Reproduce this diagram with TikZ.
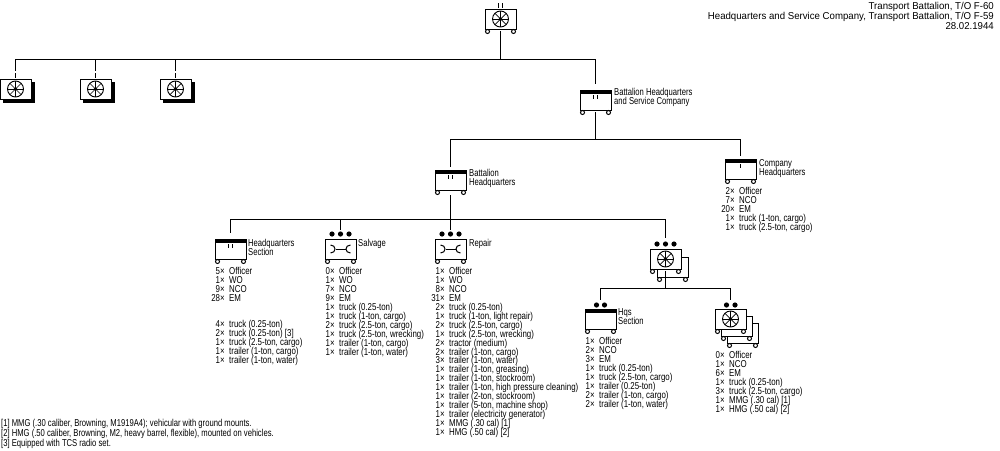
\documentclass[tikz,border=0pt]{standalone}
\usepackage{fontspec}
\setmainfont[FakeStretch=0.79]{Liberation Sans}
\newfontfamily\widefont[FakeStretch=0.965]{Liberation Sans}
\newfontfamily\narrowfont[FakeStretch=0.765]{Liberation Sans}
% keep tight line pitch even where brackets touch
\lineskiplimit=-6pt
\tikzset{
  x=1pt,y=-1pt,
  unitbox/.style={draw=black,fill=white,line width=1pt,minimum width=31pt,minimum height=20pt,inner sep=0pt,outer sep=0pt},
  link/.style={line width=1pt,shorten <=2pt},
  stroke/.style={line width=1pt},
  wheel/.style={draw=black,fill=white,line width=1pt},
  lbl/.style={anchor=north west,inner sep=0pt,align=left,font=\fontsize{10}{9.4}\narrowfont},
  roster/.style={anchor=north west,inner sep=0pt,align=left,font=\fontsize{10}{8.95}\selectfont},
  note/.style={inner sep=0pt,font=\fontsize{10}{10}\narrowfont},
  heading/.style={inner sep=0pt,font=\fontsize{10}{10}\widefont}
}
% count in front of the item name, hanging to the left of the column
\newcommand\qty[1]{\leavevmode\llap{#1×\hspace{4.5pt}}}
% a unit frame from its top-left corner
\newcommand\unitframe[3]{\node[unitbox] (#1) at ({#2+15.5},{#3+10}) {};}
\newcommand\wheels[1]{
  \draw[wheel] ([xshift=2.5pt,yshift=-2.5pt]#1.south west) circle (2pt);
  \draw[wheel] ([xshift=-2.5pt,yshift=-2.5pt]#1.south east) circle (2pt);}
\newcommand\hqbar[1]{\fill ([yshift=0.5pt]#1.north west) rectangle ([yshift=-4pt]#1.north east);}
\newcommand\fan[1]{
  \draw[line width=0.9pt] (#1.center) circle (8pt);
  \foreach \a in {0,45,...,315}{\draw[line width=0.7pt] (#1.center) -- ++(\a:8pt);}
  \fill (#1.center) circle (1.8pt);}
\newcommand\wrench[1]{
  \draw[line width=1pt] ([xshift=-5pt]#1.center) -- ([xshift=5pt]#1.center);
  \draw[line width=1pt] ([xshift=-10pt,yshift=4pt]#1.center) .. controls ([xshift=-4pt,yshift=4pt]#1.center) and ([xshift=-4pt,yshift=-4pt]#1.center) .. ([xshift=-10pt,yshift=-4pt]#1.center);
  \draw[line width=1pt] ([xshift=10pt,yshift=4pt]#1.center) .. controls ([xshift=4pt,yshift=4pt]#1.center) and ([xshift=4pt,yshift=-4pt]#1.center) .. ([xshift=10pt,yshift=-4pt]#1.center);}
% size marks: vertical ticks and dots
\newcommand\ticktwo[3]{\draw[stroke] ({#1-2},#2) -- ({#1-2},#3) ({#1+2},#2) -- ({#1+2},#3);}
\newcommand\tickone[3]{\draw[stroke] (#1,#2) -- (#1,#3);}
\newcommand\dotmark[2]{\fill (#1,#2) circle (2.6pt);}
\begin{document}
\begin{tikzpicture}
\useasboundingbox (0,0) rectangle (1000,450);
\fill[white] (0,0) rectangle (1000,450);

% bus levels of the tree
\coordinate (busA) at (0,59);
\coordinate (busB) at (0,139);
\coordinate (busC) at (0,219);
\coordinate (busD) at (0,288);

% battalion
\unitframe{bn}{485}{9}
\wheels{bn}
\fan{bn}
\ticktwo{500.5}{3}{8}

% line companies with heavy shadow
\foreach \n/\x in {coA/0,coB/80,coC/160}{
  \fill (\x+3,82) rectangle (\x+34.5,102.5);
  \node[unitbox,minimum height=20pt] (\n) at (\x+15.5,89) {};
  \fan{\n}
  \tickone{\x+15.5}{73}{78}
}

% headquarters and service company
\unitframe{hsc}{580}{90}
\hqbar{hsc}
\wheels{hsc}
\ticktwo{595.5}{95}{99}
\node[lbl] (hscLabel) at (614,88) {Battalion Headquarters\\and Service Company};

% battalion headquarters
\unitframe{bhq}{435}{170}
\hqbar{bhq}
\wheels{bhq}
\ticktwo{450.5}{175}{179}
\node[lbl] (bhqLabel) at (469,169) {Battalion\\Headquarters};

% company headquarters
\unitframe{chq}{725}{159}
\hqbar{chq}
\wheels{chq}
\tickone{740.5}{164}{168}
\node[lbl] (chqLabel) at (759,159) {Company\\Headquarters};
\node[roster] (chqList) at (739,187) {\qty{2}Officer\\\qty{7}NCO\\\qty{20}EM\\\qty{1}truck (1-ton, cargo)\\\qty{1}truck (2.5-ton, cargo)};

% headquarters section
\unitframe{hqs}{215}{239}
\hqbar{hqs}
\wheels{hqs}
\ticktwo{230.5}{244}{248}
\node[lbl] (hqsLabel) at (248,239) {Headquarters\\Section};
\node[roster] (hqsPers) at (229,267) {\qty{5}Officer\\\qty{1}WO\\\qty{9}NCO\\\qty{28}EM};
\node[roster] (hqsVeh) at (229,320) {\qty{4}truck (0.25-ton)\\\qty{2}truck (0.25-ton) {[3]}\\\qty{1}truck (2.5-ton, cargo)\\\qty{1}trailer (1-ton, cargo)\\\qty{1}trailer (1-ton, water)};

% salvage platoon
\unitframe{salv}{325}{239}
\wheels{salv}
\wrench{salv}
\foreach \x in {332,340.5,349}{\dotmark{\x}{234}}
\node[lbl] (salvLabel) at (358,239) {Salvage};
\node[roster] (salvList) at (339,267) {\qty{0}Officer\\\qty{1}WO\\\qty{7}NCO\\\qty{9}EM\\\qty{1}truck (0.25-ton)\\\qty{1}truck (1-ton, cargo)\\\qty{2}truck (2.5-ton, cargo)\\\qty{1}truck (2.5-ton, wrecking)\\\qty{1}trailer (1-ton, cargo)\\\qty{1}trailer (1-ton, water)};

% repair platoon
\unitframe{rep}{435}{239}
\wheels{rep}
\wrench{rep}
\foreach \x in {442,450.5,459}{\dotmark{\x}{234}}
\node[lbl] (repLabel) at (469,239) {Repair};
\node[roster] (repList) at (449,267) {\qty{1}Officer\\\qty{1}WO\\\qty{8}NCO\\\qty{31}EM\\\qty{2}truck (0.25-ton)\\\qty{1}truck (1-ton, light repair)\\\qty{2}truck (2.5-ton, cargo)\\\qty{1}truck (2.5-ton, wrecking)\\\qty{2}tractor (medium)\\\qty{2}trailer (1-ton, cargo)\\\qty{3}trailer (1-ton, water)\\\qty{1}trailer (1-ton, greasing)\\\qty{1}trailer (1-ton, stockroom)\\\qty{1}trailer (1-ton, high pressure cleaning)\\\qty{1}trailer (2-ton, stockroom)\\\qty{1}trailer (5-ton, machine shop)\\\qty{1}trailer (electricity generator)\\\qty{1}MMG (.30 cal) {[1]}\\\qty{1}HMG (.50 cal) {[2]}};

% transport company, two vehicles deep
\unitframe{tcoBack}{657}{257}
\wheels{tcoBack}
\unitframe{tco}{650}{249}
\wheels{tco}
\fan{tco}
\foreach \x in {657,665.5,674}{\dotmark{\x}{244}}

% company section
\unitframe{csec}{585}{309}
\hqbar{csec}
\wheels{csec}
\foreach \x in {596.5,604.5}{\dotmark{\x}{305}}
\node[lbl] (csecLabel) at (618,308) {Hqs\\Section};
\node[roster] (csecList) at (599,337) {\qty{1}Officer\\\qty{2}NCO\\\qty{3}EM\\\qty{1}truck (0.25-ton)\\\qty{1}truck (2.5-ton, cargo)\\\qty{1}trailer (0.25-ton)\\\qty{2}trailer (1-ton, cargo)\\\qty{2}trailer (1-ton, water)};

% truck platoons, three vehicles deep
\unitframe{pltC}{727}{323}
\wheels{pltC}
\unitframe{pltB}{721}{316}
\wheels{pltB}
\unitframe{plt}{715}{309}
\wheels{plt}
\fan{plt}
\foreach \x in {726.5,735}{\dotmark{\x}{305}}
\node[roster] (pltList) at (729,351) {\qty{0}Officer\\\qty{1}NCO\\\qty{6}EM\\\qty{1}truck (0.25-ton)\\\qty{3}truck (2.5-ton, cargo)\\\qty{1}MMG (.30 cal) {[1]}\\\qty{1}HMG (.50 cal) {[2]}};

% tree connectors
\foreach \c/\g in {coA/8,coB/8,coC/8,hsc/6}{
  \draw[link,shorten >=\g pt] (bn.south) -- (bn.south |- busA) -| (\c.north);}
\foreach \c/\g in {bhq/3,chq/3}{
  \draw[link,shorten >=\g pt] (hsc.south) -- (hsc.south |- busB) -| (\c.north);}
\foreach \c/\g in {hqs/6,salv/9,rep/9,tco/11}{
  \draw[link,shorten >=\g pt,shorten <=5pt] (bhq.south) -- (bhq.south |- busC) -| (\c.north);}
\foreach \c/\g in {csec/9,plt/9}{
  \draw[link,shorten >=\g pt] (tco.south) -- (tco.south |- busD) -| (\c.north);}

% title block
\node[heading,anchor=north east,align=right] (title) at (994,2) {Transport Battalion, T/O F-60\\Headquarters and Service Company, Transport Battalion, T/O F-59\\28.02.1944};

% footnotes
\node[note,anchor=north west,align=left] (notes) at (1,419.5) {{[1]} MMG (.30 caliber, Browning, M1919A4); vehicular with ground mounts.\\{[2]} HMG (.50 caliber, Browning, M2, heavy barrel, flexible), mounted on vehicles.\\{[3]} Equipped with TCS radio set.};
\end{tikzpicture}
\end{document}
